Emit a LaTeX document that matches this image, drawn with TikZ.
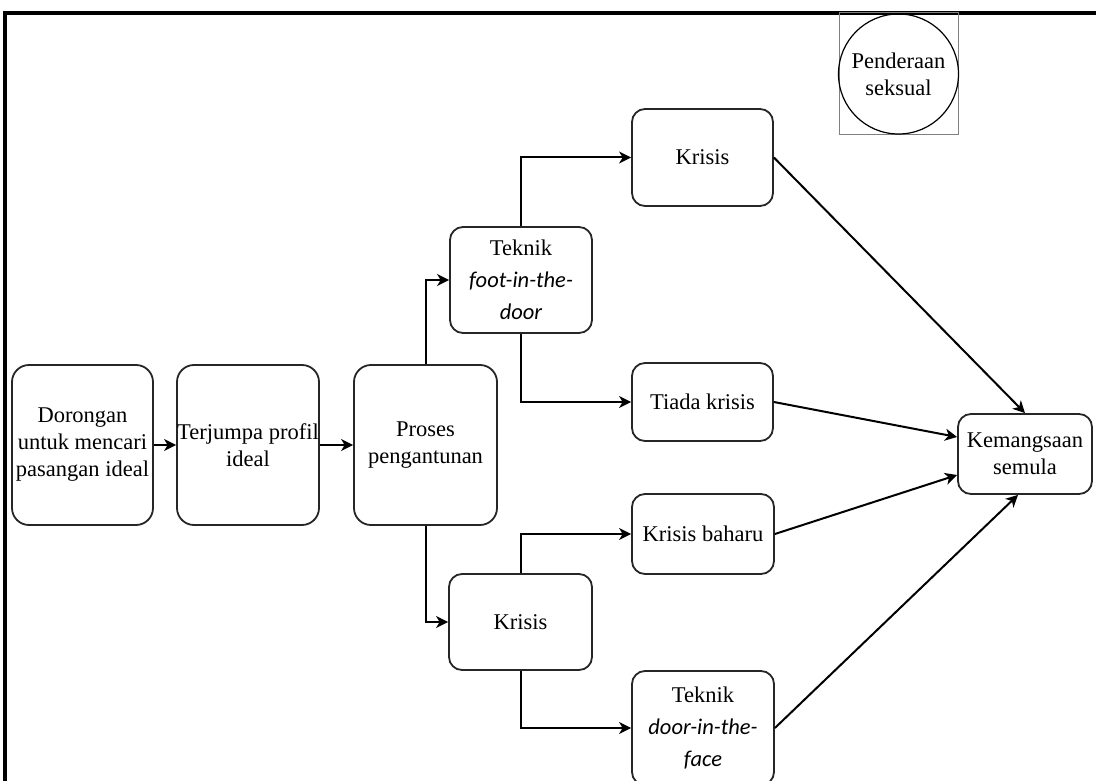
\documentclass[tikz,border=0pt]{standalone}
\usepackage{fontspec}
\setmainfont{Liberation Serif}
\newfontfamily\carlito{Carlito}
\usetikzlibrary{arrows.meta}
\begin{document}
\begin{tikzpicture}[x=1pt,y=-1pt,
  box/.style={draw=black!85, line width=1.8pt, rounded corners=#1, align=center, inner sep=0pt,
    font=\fontsize{22.5}{27}\selectfont},
  box/.default=14pt,
  tbox/.style={box=13pt, font=\fontsize{22.5}{32}\selectfont},
  arr/.style={-{Stealth[length=12pt,width=12pt,inset=3.5pt]}, line width=2pt}]
\useasboundingbox (0,0) rectangle (1096,781);
% frame
\draw[line width=3.5pt] (5,790) -- (5,13) -- (1100,13);
% nodes
\node[box=17pt, minimum width=141pt, minimum height=160pt] (dor) at (82.5,445) {Dorongan\\untuk mencari\\pasangan ideal};
\node[box=17pt, minimum width=142pt, minimum height=160pt] (ter) at (248,445) {Terjumpa profil\\ideal};
\node[box=17pt, minimum width=143pt, minimum height=160pt] (pro) at (425.5,445) {Proses\\pengantunan};
\node[tbox, minimum width=142pt, minimum height=106pt] (foot) at (521,280) {Teknik\\{\carlito\itshape foot-in-the-}\\{\carlito\itshape door}};
\node[box=13pt, minimum width=141pt, minimum height=97pt] (ka) at (702.5,157.5) {Krisis};
\node[box=13pt, minimum width=141pt, minimum height=78pt] (tiada) at (702.5,402) {Tiada krisis};
\node[box=13pt, minimum width=142pt, minimum height=80pt] (baharu) at (703,534) {Krisis baharu};
\node[box=13pt, minimum width=143pt, minimum height=96pt] (kb) at (520.5,622) {Krisis};
\node[tbox, minimum width=142pt, minimum height=114pt] (door) at (703,728) {Teknik\\{\carlito\itshape door-in-the-}\\{\carlito\itshape face}};
\node[box=13pt, minimum width=134pt, minimum height=80pt] (kem) at (1025,454) {Kemangsaan\\semula};
% penderaan seksual
\node[draw=gray, line width=1pt, minimum width=119pt, minimum height=122pt, inner sep=0pt] (pbox) at (898.5,74) {};
\node[draw, circle, line width=1.2pt, minimum size=120pt, inner sep=0pt, align=center,
  font=\fontsize{22.5}{27}\selectfont] (pend) at (898.5,74) {Penderaan\\seksual};
% connectors
\draw[arr] (dor) -- (ter);
\draw[arr] (ter) -- (pro);
\draw[arr] (pro.north) |- (foot.west);
\draw[arr] (pro.south) |- (kb.west);
\draw[arr] (foot.north) |- (ka.west);
\draw[arr] (foot.south) |- (tiada.west);
\draw[arr] (kb.north) |- (baharu.west);
\draw[arr] (kb.south) |- (door.west);
\draw[arr] (ka.east) -- (kem.north);
\draw[arr] (tiada.east) -- ([yshift=17pt]kem.west);
\draw[arr] (baharu.east) -- ([yshift=-21pt]kem.west);
\draw[arr] (door.east) -- ([xshift=-7pt]kem.south);
\end{tikzpicture}
\end{document}
